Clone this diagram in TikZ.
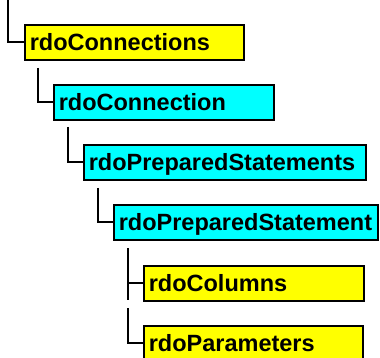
\documentclass[tikz,border=0pt]{standalone}
\usepackage{fontspec}
\setmainfont{Liberation Sans}
\definecolor{boxyellow}{RGB}{255,255,0}
\definecolor{boxcyan}{RGB}{0,255,255}
\begin{document}
\begin{tikzpicture}[x=1pt,y=1pt,
  box/.style={draw=black, line width=1.6pt, anchor=north west, rectangle,
    minimum height=35pt, inner xsep=5pt, inner ysep=0pt, align=left,
    text height=20pt, text depth=3pt,
    font=\fontsize{23.5}{23.5}\selectfont\bfseries},
  ybox/.style={box, fill=boxyellow},
  cbox/.style={box, fill=boxcyan},
  conn/.style={draw=black, line width=1.8pt}]
\useasboundingbox (0,0) rectangle (380,-358);
\clip (0,0) rectangle (380,-358);
\node[ybox, text width=209pt] (b1) at (24,-24) {rdoConnections};
\node[cbox, text width=210pt] (b2) at (53,-84) {rdoConnection};
\node[cbox, text width=272pt] (b3) at (83,-144) {rdoPreparedStatements};
\node[cbox, text width=254pt] (b4) at (113,-204) {rdoPreparedStatement};
\node[ybox, text width=210pt] (b5) at (143,-265) {rdoColumns};
\node[ybox, text width=209pt] (b6) at (143,-325) {rdoParameters};
\coordinate (c1) at (8,0);
\coordinate (c2) at (38,-68);
\coordinate (c3) at (68,-127);
\coordinate (c4) at (98,-188);
\coordinate (c5) at (128,-248);
\coordinate (c5e) at (128,-300);
\coordinate (c6) at (128,-308);
\draw[conn] (c1) |- (b1.west);
\draw[conn] (c2) |- (b2.west);
\draw[conn] (c3) |- (b3.west);
\draw[conn] (c4) |- (b4.west);
\draw[conn] (c5) -- (c5e);
\draw[conn] (c5) |- (b5.west);
\draw[conn] (c6) |- (b6.west);
\end{tikzpicture}
\end{document}
